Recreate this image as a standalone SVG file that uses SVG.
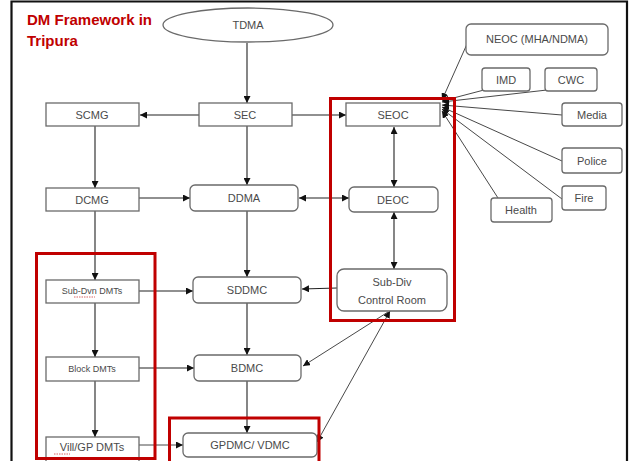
<svg xmlns="http://www.w3.org/2000/svg" width="630" height="461" viewBox="0 0 630 461">
<defs>
<marker id="ah" viewBox="0 0 10 10" refX="10" refY="5" markerWidth="7" markerHeight="7" orient="auto-start-reverse" markerUnits="userSpaceOnUse">
<path d="M0,0 L10,5 L0,10 z" fill="#111"/>
</marker>
<style>
.box{fill:#fff;stroke:#6a6a6a;stroke-width:1.3}
.lbl{font-family:"Liberation Sans","DejaVu Sans",sans-serif;font-size:11px;fill:#4a4a4a;text-anchor:middle;dominant-baseline:central}
.sm{font-size:9px}
.ln{fill:none;stroke:#222;stroke-width:1.1}
.thin{fill:none;stroke:#333;stroke-width:0.9}
.red{fill:none;stroke:#c00000;stroke-width:3}
.title{font-family:"Liberation Sans","DejaVu Sans",sans-serif;font-size:15px;font-weight:bold;fill:#c00000}
.sq{fill:none;stroke:#d04040;stroke-width:0.8;stroke-dasharray:1.5 1}
</style>
</defs>
<rect x="0" y="0" width="630" height="461" fill="#fff"/>
<path d="M11.5,461 V1.5 H627 V461" fill="none" stroke="#111" stroke-width="2.2"/>
<text class="title" x="27" y="25">DM Framework in</text>
<text class="title" x="27" y="46">Tripura</text>

<g id="connectors">
<line class="ln" x1="247" y1="43" x2="247" y2="103" marker-end="url(#ah)"/>
<line class="ln" x1="199" y1="115" x2="140" y2="115" marker-end="url(#ah)"/>
<line class="ln" x1="292" y1="115" x2="346" y2="115" marker-end="url(#ah)"/>
<line class="ln" x1="95" y1="126" x2="95" y2="188" marker-end="url(#ah)"/>
<line class="ln" x1="247" y1="126" x2="247" y2="185" marker-end="url(#ah)"/>
<line class="ln" x1="394" y1="127" x2="394" y2="187" marker-start="url(#ah)" marker-end="url(#ah)"/>
<line class="ln" x1="139" y1="198" x2="190" y2="198" marker-end="url(#ah)"/>
<line class="ln" x1="299" y1="198" x2="349" y2="198" marker-start="url(#ah)" marker-end="url(#ah)"/>
<line class="ln" x1="394" y1="212" x2="394" y2="269" marker-start="url(#ah)" marker-end="url(#ah)"/>
<line class="ln" x1="95" y1="211" x2="95" y2="280" marker-end="url(#ah)"/>
<line class="ln" x1="247" y1="211" x2="247" y2="277" marker-end="url(#ah)"/>
<line class="ln" x1="139" y1="291" x2="193" y2="291" marker-end="url(#ah)"/>
<line class="ln" x1="337" y1="288" x2="302" y2="289" marker-end="url(#ah)"/>
<line class="ln" x1="95" y1="303" x2="95" y2="357" marker-end="url(#ah)"/>
<line class="ln" x1="247" y1="303" x2="247" y2="355" marker-end="url(#ah)"/>
<line class="ln" x1="139" y1="368" x2="194" y2="368" marker-end="url(#ah)"/>
<line class="thin" x1="388" y1="312" x2="303" y2="366" marker-end="url(#ah)"/>
<line class="ln" x1="95" y1="381" x2="95" y2="437" marker-end="url(#ah)"/>
<line class="ln" x1="247" y1="381" x2="247" y2="433" marker-end="url(#ah)"/>
<line class="thin" x1="139" y1="445" x2="183" y2="445" marker-end="url(#ah)"/>
<line class="thin" x1="317" y1="442" x2="390" y2="311" marker-start="url(#ah)" marker-end="url(#ah)"/>
<line class="thin" x1="467" y1="44" x2="442" y2="100" marker-end="url(#ah)"/>
<line class="thin" x1="484" y1="90" x2="442" y2="101" marker-end="url(#ah)"/>
<line class="thin" x1="547" y1="90" x2="442" y2="102" marker-end="url(#ah)"/>
<line class="thin" x1="562" y1="115" x2="442" y2="105" marker-end="url(#ah)"/>
<line class="thin" x1="562" y1="161" x2="442" y2="107" marker-end="url(#ah)"/>
<line class="thin" x1="562" y1="199" x2="442" y2="109" marker-end="url(#ah)"/>
<line class="thin" x1="498" y1="198" x2="442" y2="111" marker-end="url(#ah)"/>
</g>

<g id="tdma"><ellipse class="box" cx="248" cy="25" rx="85" ry="17"/><text class="lbl" x="248" y="25">TDMA</text></g>
<g id="scmg"><rect class="box" x="46" y="103" width="93" height="23"/><text class="lbl" x="92" y="115">SCMG</text></g>
<g id="sec"><rect class="box" x="199" y="103" width="93" height="23"/><text class="lbl" x="245" y="115">SEC</text></g>
<g id="seoc"><rect class="box" x="346" y="103" width="94" height="23"/><text class="lbl" x="393" y="115">SEOC</text></g>
<g id="neoc"><rect class="box" x="466" y="24" width="142" height="31" rx="5"/><text class="lbl" x="537" y="39">NEOC (MHA/NDMA)</text></g>
<g id="imd"><rect class="box" x="482" y="68" width="48" height="23" rx="3"/><text class="lbl" x="506" y="80">IMD</text></g>
<g id="cwc"><rect class="box" x="545" y="68" width="52" height="23" rx="3"/><text class="lbl" x="571" y="80">CWC</text></g>
<g id="media"><rect class="box" x="562" y="103" width="60" height="23" rx="3"/><text class="lbl" x="592" y="115">Media</text></g>
<g id="police"><rect class="box" x="562" y="148" width="60" height="25" rx="3"/><text class="lbl" x="592" y="161">Police</text></g>
<g id="fire"><rect class="box" x="562" y="186" width="44" height="24" rx="3"/><text class="lbl" x="584" y="198">Fire</text></g>
<g id="health"><rect class="box" x="491" y="198" width="61" height="24" rx="3"/><text class="lbl" x="521" y="210">Health</text></g>
<g id="dcmg"><rect class="box" x="46" y="188" width="93" height="23"/><text class="lbl" x="92" y="200">DCMG</text></g>
<g id="ddma"><rect class="box" x="190" y="185" width="108" height="26" rx="5"/><text class="lbl" x="244" y="198">DDMA</text></g>
<g id="deoc"><rect class="box" x="349" y="187" width="89" height="25" rx="5"/><text class="lbl" x="393" y="200">DEOC</text></g>
<g id="subdiv-cr"><rect class="box" x="337" y="269" width="110" height="42" rx="7"/><text class="lbl" x="392" y="282">Sub-Div</text><text class="lbl" x="392" y="300">Control Room</text></g>
<g id="subdvn-dmts"><rect class="box" x="46" y="280" width="93" height="23"/><text class="lbl sm" x="92" y="291">Sub-Dvn DMTs</text><path class="sq" d="M74,297 H95"/></g>
<g id="sddmc"><rect class="box" x="193" y="277" width="108" height="26" rx="5"/><text class="lbl" x="247" y="290">SDDMC</text></g>
<g id="block-dmts"><rect class="box" x="46" y="357" width="93" height="24"/><text class="lbl sm" x="92" y="369">Block DMTs</text></g>
<g id="bdmc"><rect class="box" x="194" y="355" width="107" height="26" rx="5"/><text class="lbl" x="247" y="368">BDMC</text></g>
<g id="vill-dmts"><rect class="box" x="46" y="437" width="93" height="26"/><text class="lbl" x="92" y="447">Vill/GP DMTs</text><path class="sq" d="M54,454 H70"/></g>
<g id="gpdmc"><rect class="box" x="183" y="433" width="134" height="24" rx="5"/><text class="lbl" x="250" y="445">GPDMC/ VDMC</text></g>

<g id="highlights">
<rect class="red" x="330.5" y="98.5" width="124" height="222"/>
<rect class="red" x="36.5" y="253.5" width="118.5" height="205"/>
<path class="red" d="M169.5,461 V418 H319 V461"/>
</g>
</svg>
